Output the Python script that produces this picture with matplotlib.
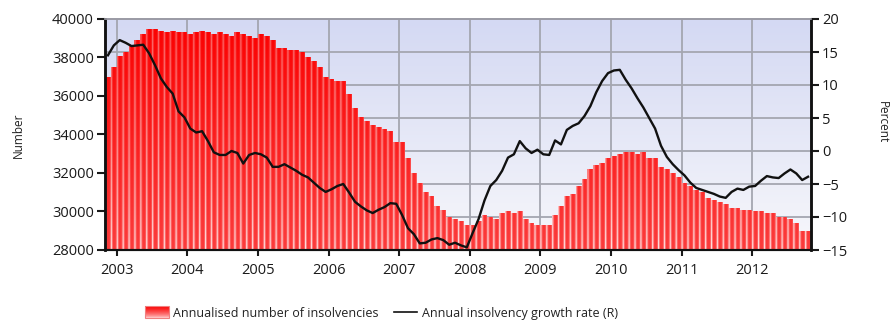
import numpy as np
import matplotlib
matplotlib.use('Agg')
import matplotlib.pyplot as plt
from matplotlib.path import Path
from matplotlib.patches import PathPatch, Patch, Rectangle
from matplotlib.lines import Line2D
from matplotlib.legend_handler import HandlerBase

plt.rcParams['font.family'] = ['Open Sans', 'DejaVu Sans']

# Monthly series, Nov 2002 .. Oct 2012
start_year, start_month = 2002, 11
insolvencies = [
    37000, 37500, 38100, 38300, 38600, 38900, 39200, 39500, 39500, 39400,
    39300, 39400, 39300, 39300, 39200, 39300, 39400, 39300, 39200, 39300,
    39200, 39100, 39300, 39200, 39100, 39000, 39200, 39100, 38900, 38500,
    38500, 38400, 38400, 38300, 38000, 37800, 37500, 37000, 36900, 36800,
    36800, 36100, 35400, 34900, 34700, 34500, 34400, 34300, 34200, 33600,
    33600, 32800, 32000, 31500, 31000, 30800, 30300, 30100, 29700, 29600,
    29500, 29300, 29300, 29500, 29800, 29700, 29600, 29900, 30000, 29900,
    30000, 29600, 29400, 29300, 29300, 29300, 29800, 30300, 30800, 30900,
    31300, 31700, 32200, 32400, 32500, 32800, 32900, 33000, 33100, 33100,
    33000, 33100, 32800, 32800, 32300, 32200, 32000, 31800, 31500, 31300,
    31100, 31000, 30700, 30600, 30500, 30400, 30200, 30200, 30100, 30100,
    30000, 30000, 29900, 29900, 29700, 29700, 29600, 29400, 29000, 29000,
]
growth_rate = [
    14.5, 16.0, 16.8, 16.4, 15.9, 16.0, 16.1, 14.8, 13.0, 11.0,
    9.7, 8.7, 6.0, 5.1, 3.4, 2.8, 3.0, 1.5, -0.2, -0.6,
    -0.6, 0.0, -0.3, -1.9, -0.6, -0.3, -0.5, -1.0, -2.4, -2.4,
    -2.0, -2.5, -3.0, -3.6, -4.0, -4.8, -5.6, -6.2, -5.8, -5.3,
    -5.0, -6.3, -7.7, -8.4, -9.0, -9.4, -8.9, -8.5, -7.9, -8.0,
    -9.7, -11.7, -12.6, -14.0, -13.9, -13.4, -13.2, -13.5, -14.2, -13.9,
    -14.3, -14.6, -12.4, -10.3, -7.5, -5.3, -4.4, -3.0, -1.0, -0.5,
    1.5, 0.4, -0.3, 0.2, -0.5, -0.6, 1.6, 1.0, 3.2, 3.8,
    4.2, 5.3, 6.8, 8.9, 10.6, 11.8, 12.2, 12.3, 10.8, 9.5,
    8.0, 6.6, 5.0, 3.4, 0.8, -0.9, -2.0, -2.9, -3.7, -4.8,
    -5.6, -5.9, -6.2, -6.5, -6.9, -7.1, -6.2, -5.7, -5.9, -5.4,
    -5.3, -4.5, -3.8, -4.0, -4.1, -3.4, -2.8, -3.4, -4.4, -3.9,
]
years = list(range(2003, 2013))
left_ticks = [28000, 30000, 32000, 34000, 36000, 38000, 40000]
right_ticks = [-15, -10, -5, 0, 5, 10, 15, 20]

RED_TOP = np.array([250, 0, 0]) / 255
RED_BOT = np.array([252, 60, 60]) / 255
PINK_TOP = np.array([250, 95, 95]) / 255
PINK_BOT = np.array([255, 232, 232]) / 255


class GradientBoxHandler(HandlerBase):
    # legend key drawn as a red box fading to pink at the bottom
    def create_artists(self, legend, orig_handle, xdescent, ydescent,
                       width, height, fontsize, trans):
        arts = []
        nb = 12
        for k in range(nb):
            f = (k + 0.5) / nb
            c = PINK_BOT + (RED_TOP - PINK_BOT) * f ** 0.6
            arts.append(Rectangle((-xdescent, -ydescent + height * k / nb), width,
                                  height / nb + 0.3, facecolor=c, edgecolor='none',
                                  transform=trans))
        arts.append(Rectangle((-xdescent, -ydescent), width, height, facecolor='none',
                              edgecolor='#f08080', lw=0.8, transform=trans))
        return arts


n = len(insolvencies)
x0 = start_year + (start_month - 1) / 12
dates = x0 + (np.arange(n) + 0.5) / 12
xmin, xmax = x0, x0 + n / 12
ymin, ymax = left_ticks[0], left_ticks[-1]
rmin, rmax = right_ticks[0], right_ticks[-1]

fig = plt.figure(figsize=(8.91, 3.23), dpi=100)
ax = fig.add_axes([105 / 891, 1 - 250 / 323, 706 / 891, 231 / 323])

# pale lavender backdrop fading downwards
bg = np.linspace(0, 1, 100)[:, None]
top_c = np.array([212, 217, 243]) / 255
bot_c = np.array([247, 247, 251]) / 255
bg_img = (bot_c + (top_c - bot_c) * bg)[:, None, :].repeat(2, axis=1)
ax.imshow(bg_img, extent=(0, 1, 0, 1), transform=ax.transAxes, origin='lower',
          aspect='auto', zorder=0)

# grid: verticals on years, horizontals on the right-hand ticks
for yr in years:
    ax.axvline(yr, color='#a4a6b0', lw=1.3, zorder=1)
for p in right_ticks[1:-1]:
    ax.axhline(ymin + (p - rmin) / (rmax - rmin) * (ymax - ymin),
               color='#a4a6b0', lw=1.3, zorder=1)

bars = ax.bar(dates, insolvencies, width=1 / 12, color='#f01010', linewidth=0, zorder=2)

# striped red gradient, clipped to the bars
ny = 120
t = np.linspace(0, 1, ny)[:, None, None]
body = RED_BOT + (RED_TOP - RED_BOT) * t
stripe = PINK_BOT + (PINK_TOP - PINK_BOT) * t ** 0.7
mask = np.array([1, 0.4, 0, 0, 0, 0.25])[None, :, None]
cell = body * (1 - mask) + stripe * mask
img = np.tile(cell, (1, n, 1))
paths = [b.get_path().transformed(b.get_patch_transform()) for b in bars]
clip = PathPatch(Path.make_compound_path(*paths), transform=ax.transData,
                 facecolor='none', edgecolor='none')
ax.add_patch(clip)
im = ax.imshow(img, extent=(xmin, xmax, ymin, ymax), origin='lower', aspect='auto',
               interpolation='bilinear', zorder=2.5)
im.set_clip_path(clip)

ax.set_xlim(xmin, xmax)
ax.set_ylim(ymin, ymax)
ax.set_yticks(left_ticks)
ax.set_xticks(years)
ax.tick_params(axis='y', length=6, width=1.5, pad=2, labelsize=10.5, colors='#1a1a1a')
ax.tick_params(axis='x', length=4, width=1.5, pad=5, labelsize=10.5, colors='#1a1a1a')

ax2 = ax.twinx()
ax2.plot(dates, growth_rate, color='#111111', lw=1.7, zorder=5)
ax2.set_ylim(rmin, rmax)
ax2.set_yticks(right_ticks)
ax2.tick_params(axis='y', length=6, width=1.5, pad=2, labelsize=10.5, colors='#1a1a1a')

for a in (ax, ax2):
    a.spines['top'].set_color('#9a9aa4')
    a.spines['top'].set_linewidth(1.2)
    for side, lw in (('left', 1.8), ('right', 1.8), ('bottom', 1.5)):
        a.spines[side].set_linewidth(lw)
        a.spines[side].set_color('#111111')

fig.text(18 / 891, 1 - 135 / 323, 'Number', rotation=90, ha='center', va='center',
         fontsize=8.5, color='#222222')
fig.text(882 / 891, 1 - 122 / 323, 'Percent', rotation=270, ha='center', va='center',
         fontsize=8.5, color='#222222')

box_key = Patch()
handles = [box_key, Line2D([], [], color='#111111', lw=1.2)]
fig.legend(handles, ['Annualised number of insolvencies', 'Annual insolvency growth rate (R)'],
           loc='center', bbox_to_anchor=(0.428, 1 - 313 / 323), ncol=2, frameon=False,
           fontsize=9, handlelength=1.9, handleheight=1.1, handletextpad=0.35,
           columnspacing=1.2, labelcolor='#222222',
           handler_map={box_key: GradientBoxHandler()})

fig.savefig('out.png', dpi=100)
